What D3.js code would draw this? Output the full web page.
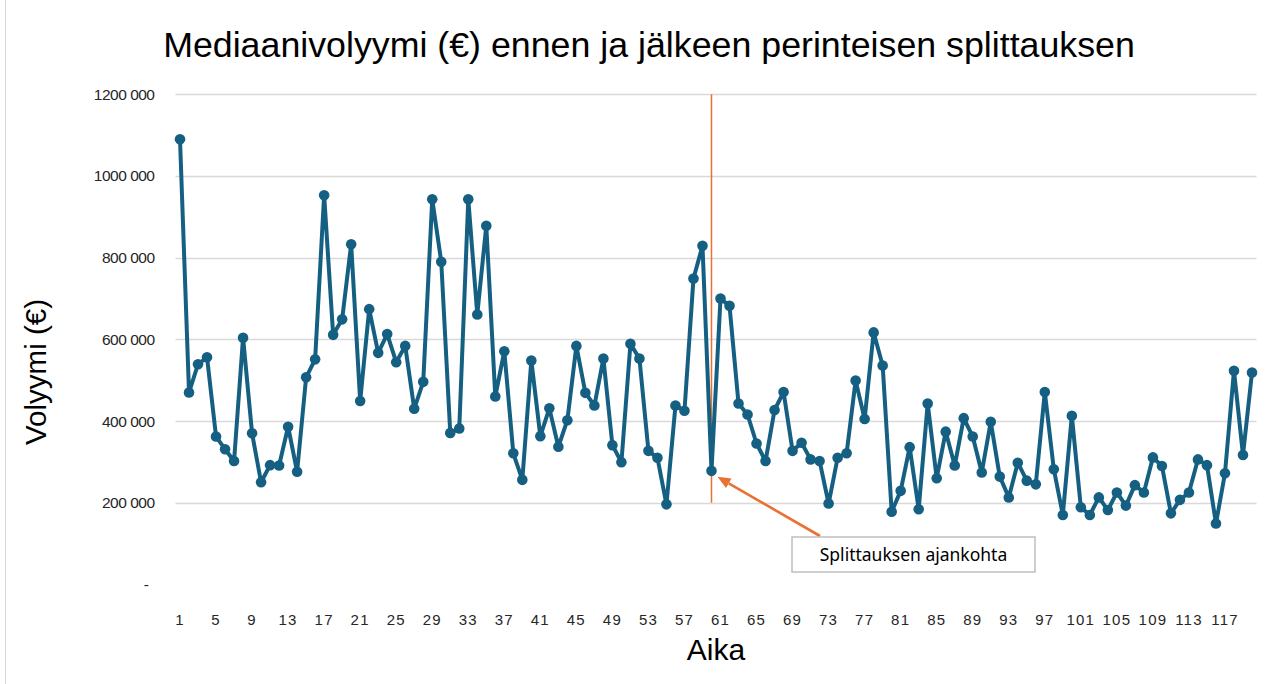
<!DOCTYPE html>
<html>
<head>
<meta charset="utf-8">
<script src="https://cdn.jsdelivr.net/npm/d3@7"></script>
<style>
  html, body { margin: 0; padding: 0; background: #fff; }
  svg { display: block; }
</style>
</head>
<body>
<div id="chart"></div>
<script>
// values (median volume, EUR)
const categories = d3.range(1, 121);
const volumes = [
  1090000, 470000, 539000, 556000, 362000, 331000, 302000, 604000, 370000, 250000,
  292000, 291000, 386000, 276000, 507000, 551000, 953000, 611000, 649000, 833000,
  449000, 674000, 567000, 613000, 544000, 584000, 430000, 496000, 943000, 790000,
  371000, 382000, 943000, 661000, 878000, 460000, 571000, 321000, 256000, 548000,
  363000, 431000, 337000, 402000, 584000, 469000, 438000, 553000, 341000, 299000,
  589000, 553000, 327000, 310000, 196000, 438000, 425000, 749000, 829000, 278000,
  700000, 682000, 443000, 416000, 345000, 302000, 427000, 471000, 327000, 347000,
  306000, 302000, 198000, 310000, 321000, 499000, 405000, 617000, 536000, 178000,
  229000, 336000, 184000, 443000, 260000, 374000, 291000, 407000, 362000, 274000,
  398000, 264000, 213000, 298000, 254000, 245000, 471000, 282000, 170000, 413000,
  189000, 170000, 213000, 182000, 225000, 193000, 243000, 225000, 311000, 290000,
  174000, 207000, 225000, 306000, 292000, 149000, 272000, 523000, 317000, 519000
];
const xTickLabels = [1, 5, 9, 13, 17, 21, 25, 29, 33, 37, 41, 45, 49, 53, 57,
  61, 65, 69, 73, 77, 81, 85, 89, 93, 97, 101, 105, 109, 113, 117];
const yTicks = [0, 200000, 400000, 600000, 800000, 1000000, 1200000];
const yTickLabels = ["-", "200 000", "400 000", "600 000", "800 000", "1000 000", "1200 000"];
const splitCategory = 60;
const splitRange = [200000, 1200000];

const W = 1288, H = 684;
const plot = { left: 175.5, right: 1256.5, top: 94.3, bottom: 584.4 };
const blue = "#156082", orange = "#E97132";

const svg = d3.select("#chart").append("svg")
  .attr("width", W).attr("height", H)
  .style("font-family", "'Liberation Sans', Arial, sans-serif");

svg.append("rect").attr("width", W).attr("height", H).attr("fill", "#fff");
// chart area border (left edge visible)
svg.append("line").attr("x1", 5.5).attr("x2", 5.5).attr("y1", 0).attr("y2", H)
  .attr("stroke", "#d9d9d9").attr("stroke-width", 1);

const x = d3.scaleBand().domain(categories).range([plot.left, plot.right]);
const cx = d => x(d) + x.bandwidth() / 2;
const y = d3.scaleLinear().domain([0, 1200000]).range([plot.bottom, plot.top]);

// gridlines
svg.append("g").selectAll("line")
  .data(yTicks.filter(t => t > 0))
  .join("line")
  .attr("x1", plot.left).attr("x2", plot.right)
  .attr("y1", d => Math.round(y(d)) + 0.5).attr("y2", d => Math.round(y(d)) + 0.5)
  .attr("stroke", "#d9d9d9").attr("stroke-width", 1.3);

// y axis labels
const yAxis = d3.axisLeft(y).tickValues(yTicks)
  .tickFormat((d, i) => yTickLabels[i]).tickSize(0).tickPadding(0);
svg.append("g").attr("transform", `translate(${plot.left - 21},0)`)
  .call(yAxis)
  .call(g => g.select(".domain").remove())
  .selectAll("text")
  .attr("font-size", 15.5).attr("fill", "#262626")
  .attr("font-family", "'Liberation Sans', Arial, sans-serif")
  .attr("letter-spacing", -0.5)
  .attr("dx", d => d === 0 ? -6 : 0);

// x axis labels
const xAxis = d3.axisBottom(x).tickValues(xTickLabels).tickSize(0).tickPadding(0);
svg.append("g").attr("transform", `translate(0,${plot.bottom + 30})`)
  .call(xAxis)
  .call(g => g.select(".domain").remove())
  .selectAll("text")
  .attr("font-size", 15).attr("fill", "#262626")
  .attr("font-family", "'Liberation Sans', Arial, sans-serif")
  .attr("letter-spacing", 1.2);

// split marker line
svg.append("line")
  .attr("x1", cx(splitCategory)).attr("x2", cx(splitCategory))
  .attr("y1", y(splitRange[1])).attr("y2", y(splitRange[0]))
  .attr("stroke", orange).attr("stroke-width", 1.5);

// series
const pts = categories.map((c, i) => [cx(c), y(volumes[i])]);
svg.append("path")
  .attr("d", d3.line()(pts))
  .attr("fill", "none").attr("stroke", blue).attr("stroke-width", 4)
  .attr("stroke-linejoin", "round");
svg.append("g").selectAll("circle").data(pts).join("circle")
  .attr("cx", d => d[0]).attr("cy", d => d[1]).attr("r", 5.3)
  .attr("fill", blue);

// annotation arrow + box
const target = [cx(splitCategory) + 6, y(volumes[splitCategory - 1]) + 6];
const tail = [820, 536];
const ang = Math.atan2(target[1] - tail[1], target[0] - tail[0]);
const headLen = 13, headW = 5.5;
const base = [target[0] - headLen * Math.cos(ang), target[1] - headLen * Math.sin(ang)];
svg.append("line")
  .attr("x1", tail[0]).attr("y1", tail[1]).attr("x2", base[0]).attr("y2", base[1])
  .attr("stroke", orange).attr("stroke-width", 2.6);
svg.append("path")
  .attr("d", `M${target[0]},${target[1]}` +
    `L${base[0] + headW * Math.sin(ang)},${base[1] - headW * Math.cos(ang)}` +
    `L${base[0] - headW * Math.sin(ang)},${base[1] + headW * Math.cos(ang)}Z`)
  .attr("fill", orange);

svg.append("rect")
  .attr("x", 792).attr("y", 537).attr("width", 243).attr("height", 35)
  .attr("fill", "#fff").attr("stroke", "#bfbfbf").attr("stroke-width", 1.5);
svg.append("text")
  .attr("x", 913.5).attr("y", 561).attr("text-anchor", "middle")
  .attr("font-family", "'Noto Sans', 'Open Sans', sans-serif")
  .attr("font-size", 17.5).attr("fill", "#000")
  .text("Splittauksen ajankohta");

// titles
const title = svg.append("text")
  .attr("x", 649).attr("y", 57).attr("text-anchor", "middle")
  .attr("font-size", 31).attr("fill", "#000")
  .text("Mediaanivolyymi (€) ennen ja jälkeen perinteisen splittauksen");
const tw = title.node().getComputedTextLength();
title.attr("font-size", 31 * 972 / tw);

svg.append("text")
  .attr("transform", "translate(46,372) rotate(-90)")
  .attr("text-anchor", "middle").attr("font-size", 29.5).attr("fill", "#000")
  .text("Volyymi (€)");

svg.append("text")
  .attr("x", 716).attr("y", 660).attr("text-anchor", "middle")
  .attr("font-size", 30).attr("fill", "#000")
  .text("Aika");
</script>
</body>
</html>
